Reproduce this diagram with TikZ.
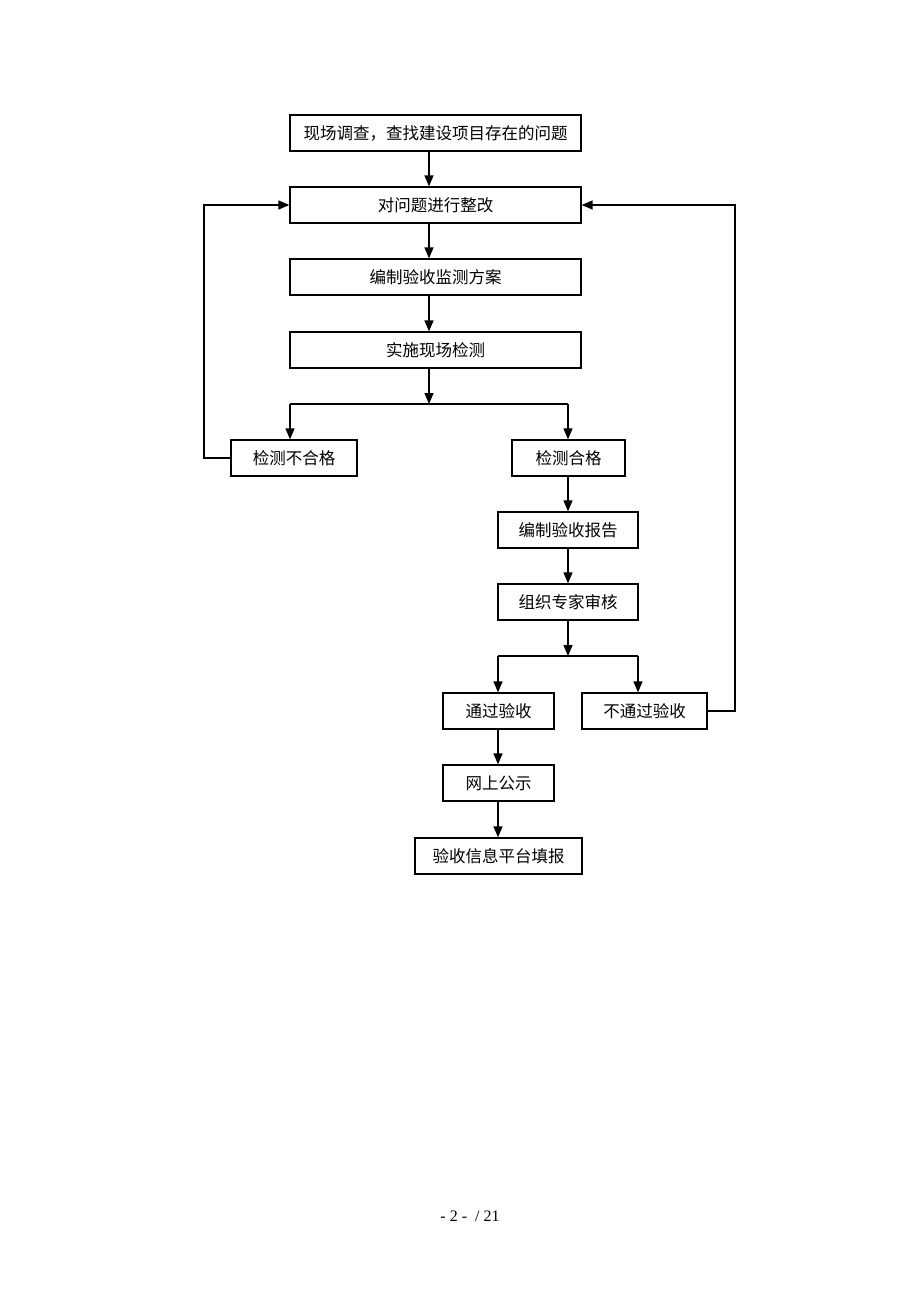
\documentclass[tikz,border=0pt]{standalone}
\usepackage{fontspec}
\setmainfont{Liberation Serif}
\newfontfamily\cjk{Noto Sans CJK SC}[Scale=1.0]
\usetikzlibrary{arrows.meta,calc}
\begin{document}
\begin{tikzpicture}[x=1pt,y=-1pt,
  box/.style={draw=black,line width=1.3pt,minimum height=36pt,inner sep=0pt,font=\cjk\fontsize{16.5}{19}\selectfont},
  conn/.style={line width=1.5pt,-{Triangle[width=9pt,length=11pt]}},
  plain/.style={line width=1.5pt}]
\fill[white] (0,0) rectangle (920,1302);
\useasboundingbox (0,0) rectangle (920,1302);
\node[box,minimum width=291pt] (b1) at (435.5,133) {现场调查，查找建设项目存在的问题};
\node[box,minimum width=291pt] (b2) at (435.5,205) {对问题进行整改};
\node[box,minimum width=291pt] (b3) at (435.5,277) {编制验收监测方案};
\node[box,minimum width=291pt] (b4) at (435.5,350) {实施现场检测};
\node[box,minimum width=126pt] (ng) at (294,458) {检测不合格};
\node[box,minimum width=113pt] (ok) at (568.5,458) {检测合格};
\node[box,minimum width=140pt] (rp) at (568,530) {编制验收报告};
\node[box,minimum width=140pt] (ex) at (568,602) {组织专家审核};
\node[box,minimum width=111pt] (ps) at (498.5,711) {通过验收};
\node[box,minimum width=125pt] (fl) at (644.5,711) {不通过验收};
\node[box,minimum width=111pt] (pub) at (498.5,783) {网上公示};
\node[box,minimum width=167pt] (fin) at (498.5,856) {验收信息平台填报};
\node[font=\fontsize{16}{18}\selectfont] (pg) at (470,1216) {- 2 -\ \ / 21};
\coordinate (j1) at (429,404);
\coordinate (jl) at (290,404);
\coordinate (jr) at (568,404);
\coordinate (j2) at (568,656);
\coordinate (j2l) at (498,656);
\coordinate (j2r) at (638,656);
\coordinate (lx) at (204,458);
\coordinate (rx) at (735,711);
\draw[conn] (b1.south -| j1) -- (b2.north -| j1);
\draw[conn] (b2.south -| j1) -- (b3.north -| j1);
\draw[conn] (b3.south -| j1) -- (b4.north -| j1);
\draw[conn] (b4.south -| j1) -- (j1);
\draw[plain] (jl) -- (jr);
\draw[conn] (jl) -- (ng.north -| jl);
\draw[conn] (jr) -- (ok.north -| jr);
\draw[conn] (ng.west) -- (lx) -- (lx |- b2.west) -- (b2.west);
\draw[conn] (ok.south -| j2) -- (rp.north -| j2);
\draw[conn] (rp.south -| j2) -- (ex.north -| j2);
\draw[conn] (ex.south -| j2) -- (j2);
\draw[plain] (j2l) -- (j2r);
\draw[conn] (j2l) -- (ps.north -| j2l);
\draw[conn] (j2r) -- (fl.north -| j2r);
\draw[conn] (fl.east) -- (rx) -- (rx |- b2.east) -- (b2.east);
\draw[conn] (ps.south -| j2l) -- (pub.north -| j2l);
\draw[conn] (pub.south -| j2l) -- (fin.north -| j2l);
\end{tikzpicture}
\end{document}
